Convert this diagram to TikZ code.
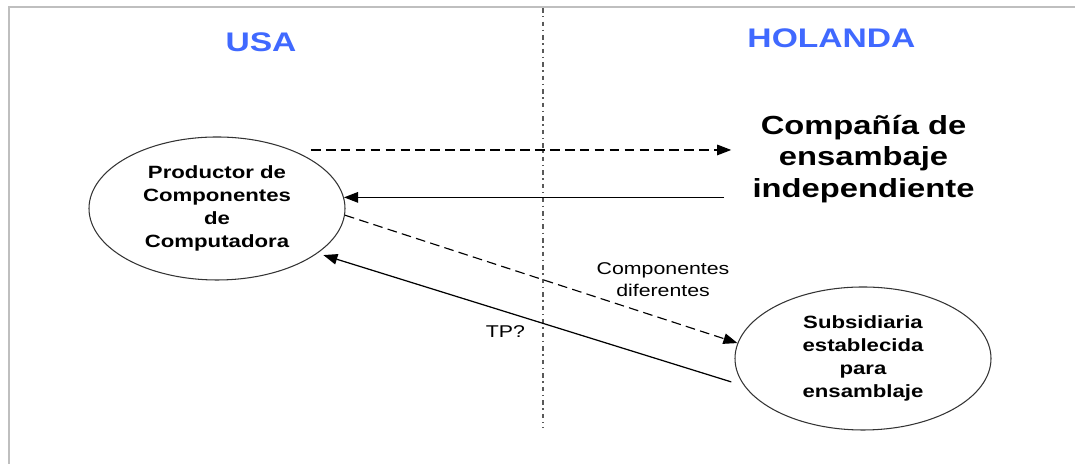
\documentclass[tikz,border=0pt]{standalone}
\usepackage{fontspec}
\setmainfont{Liberation Sans}[FakeStretch=1.25]
\usetikzlibrary{arrows.meta,shapes.geometric}
\definecolor{paiscolor}{rgb}{0.25, 0.41, 1}
\definecolor{bordecolor}{gray}{0.75}
\definecolor{lineacolor}{gray}{0.35}
\tikzset{
	pais/.style={
		text=paiscolor,
		font=\bfseries\fontsize{15.3pt}{18pt}\selectfont
	},
	entidad/.style={
		ellipse,
		draw=black!80,
		line width=0.6pt,
		minimum width=5.12cm,
		minimum height=2.86cm,
		inner sep=0pt,
		align=center,
		font=\bfseries\fontsize{10.1pt}{13pt}\selectfont
	},
	empresa/.style={
		inner sep=0pt,
		align=center,
		font=\bfseries\fontsize{14.9pt}{18pt}\selectfont
	},
	etiqueta/.style={
		inner sep=0pt,
		align=center,
		font=\fontsize{9.7pt}{12.5pt}\selectfont
	},
	flecha/.style={
		draw=black,
		line width=0.7pt,
		-{Triangle[length=8pt,width=6pt]}
	},
	flechapunt/.style={
		flecha,
		line width=0.65pt,
		dash pattern=on 5.5pt off 3pt
	},
	frontera/.style={
		draw=lineacolor,
		line width=1.1pt,
		dash pattern=on 2.6pt off 2pt on 0.8pt off 2.3pt
	},
}

\begin{document}
\begin{tikzpicture}
	\useasboundingbox (0,0) rectangle (21.5,9.28);
	% marco y frontera entre paises
	\draw[bordecolor,line width=1.1pt] (21.5,9.14) -- (0.18,9.14) -- (0.18,0);
	\draw[frontera] (10.86,9.12) -- (10.86,0.72);
	\node[pais] (usa) at (5.22,8.43) {USA};
	\node[pais] (holanda) at (16.63,8.52) {HOLANDA};
	\node[entidad] (prod) at (4.34,5.11) {Productor de\\Componentes\\de\\Computadora};
	\node[entidad] (sub) at (17.26,2.11) {Subsidiaria\\establecida\\para\\ensamblaje};
	\node[empresa] (comp) at (17.27,6.10) {Compañía de\\ensambaje\\independiente};
	% flujos entre las empresas
	\draw[flechapunt,shorten <=0.38cm,shorten >=0.42cm] (prod.38) -- (prod.38 -| comp.west);
	\draw[flecha,shorten <=0.56cm] (prod.5 -| comp.west) -- (prod.5);
	\draw[flechapunt] (prod.-3) -- node[etiqueta,pos=0.64,anchor=south west] (difer) {Componentes\\diferentes} (sub.173);
	\draw[flecha,shorten <=0.27cm,shorten >=0.12cm] (sub.193) -- node[etiqueta,pos=0.5,anchor=north east,inner sep=3pt] (tp) {TP?} (prod.-24);
\end{tikzpicture}
\end{document}
